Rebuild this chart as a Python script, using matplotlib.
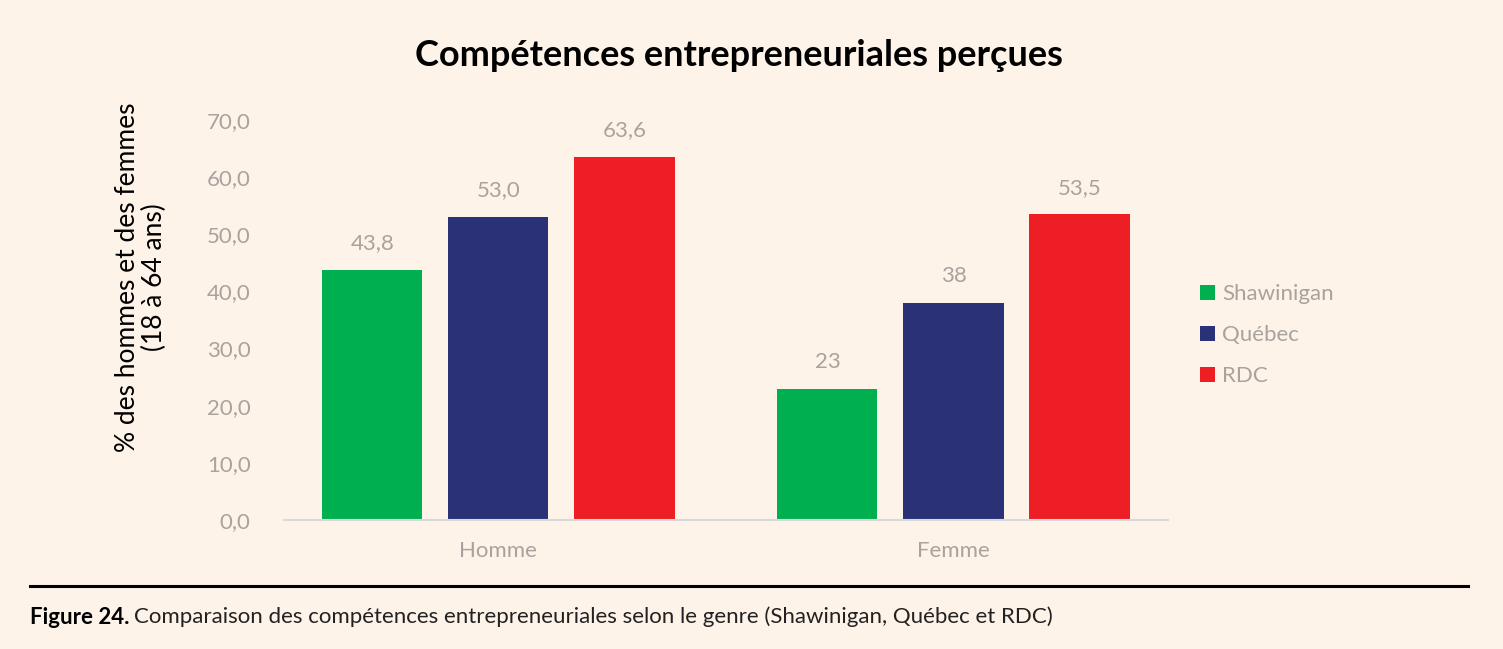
import numpy as np
import matplotlib.pyplot as plt

# data
groups = ['Homme', 'Femme']
series = ['Shawinigan', 'Québec', 'RDC']
shawinigan = [43.8, 23]
quebec = [53.0, 38]
rdc = [63.6, 53.5]
value_labels = [['43,8', '23'], ['53,0', '38'], ['63,6', '53,5']]
yticks = [0, 10, 20, 30, 40, 50, 60, 70]

colors = ['#00B050', '#2A3176', '#ED1F24']
bg = '#FEF3E8'
grey = '#A8A39E'

plt.rcParams['font.family'] = ['Lato', 'DejaVu Sans']

fig = plt.figure(figsize=(15.03, 6.49), dpi=100, facecolor=bg)
ax = fig.add_axes([0.189, 0.1988, 0.588, 0.6162], facecolor=bg)

x = np.arange(len(groups))
width = 0.22
offset = 0.277
for i, (vals, col) in enumerate(zip([shawinigan, quebec, rdc], colors)):
    pos = x + (i - 1) * offset
    bars = ax.bar(pos, vals, width, color=col, label=series[i])
    for b, lab in zip(bars, value_labels[i]):
        ax.annotate(lab, (b.get_x() + b.get_width() / 2, b.get_height()),
                    xytext=(0, 12), textcoords='offset points',
                    ha='center', va='bottom', fontsize=16, color=grey)

ax.set_xlim(-0.471, 1.471)
ax.set_ylim(0, 70)
ax.set_yticks(yticks)
ax.set_yticklabels([f'{t:.1f}'.replace('.', ',') for t in yticks])
ax.set_xticks(x)
ax.set_xticklabels(groups)
ax.tick_params(axis='both', length=0, labelsize=16, labelcolor=grey)
ax.tick_params(axis='y', pad=24)
ax.tick_params(axis='x', pad=15)
for s in ['top', 'right', 'left']:
    ax.spines[s].set_visible(False)
ax.spines['bottom'].set_color('#D9D9D9')
ax.spines['bottom'].set_linewidth(1.5)

ax.set_ylabel('% des hommes et des femmes\n(18 à 64 ans)', fontsize=19,
              color='black', linespacing=1.05)
ax.yaxis.set_label_coords(-0.133, 0.6075)

leg = ax.legend(loc='center left', bbox_to_anchor=(1.014, 0.4625), frameon=False,
                fontsize=16, handlelength=0.65, handleheight=0.65,
                handletextpad=0.35, labelspacing=0.95)
for t in leg.get_texts():
    t.set_color(grey)

fig.text(0.4915, 0.915, 'Compétences entrepreneuriales perçues', ha='center',
         va='center', fontsize=26, fontweight='bold')

# caption separator and caption
fig.add_artist(plt.Line2D([30 / 1503, 1468 / 1503], [1 - 586 / 649, 1 - 586 / 649],
                          color='black', lw=2.2))
t1 = fig.text(30 / 1503, 1 - 617 / 649, 'Figure 24.', ha='left', va='center',
              fontsize=16, fontweight='bold')
fig.canvas.draw()
bb = t1.get_window_extent()
fig.text((bb.x1 + 4) / 1503, 1 - 617 / 649,
         'Comparaison des compétences entrepreneuriales selon le genre (Shawinigan, Québec et RDC)',
         ha='left', va='center', fontsize=16, color='#222222')

fig.savefig('out.png', dpi=100, facecolor=bg)
